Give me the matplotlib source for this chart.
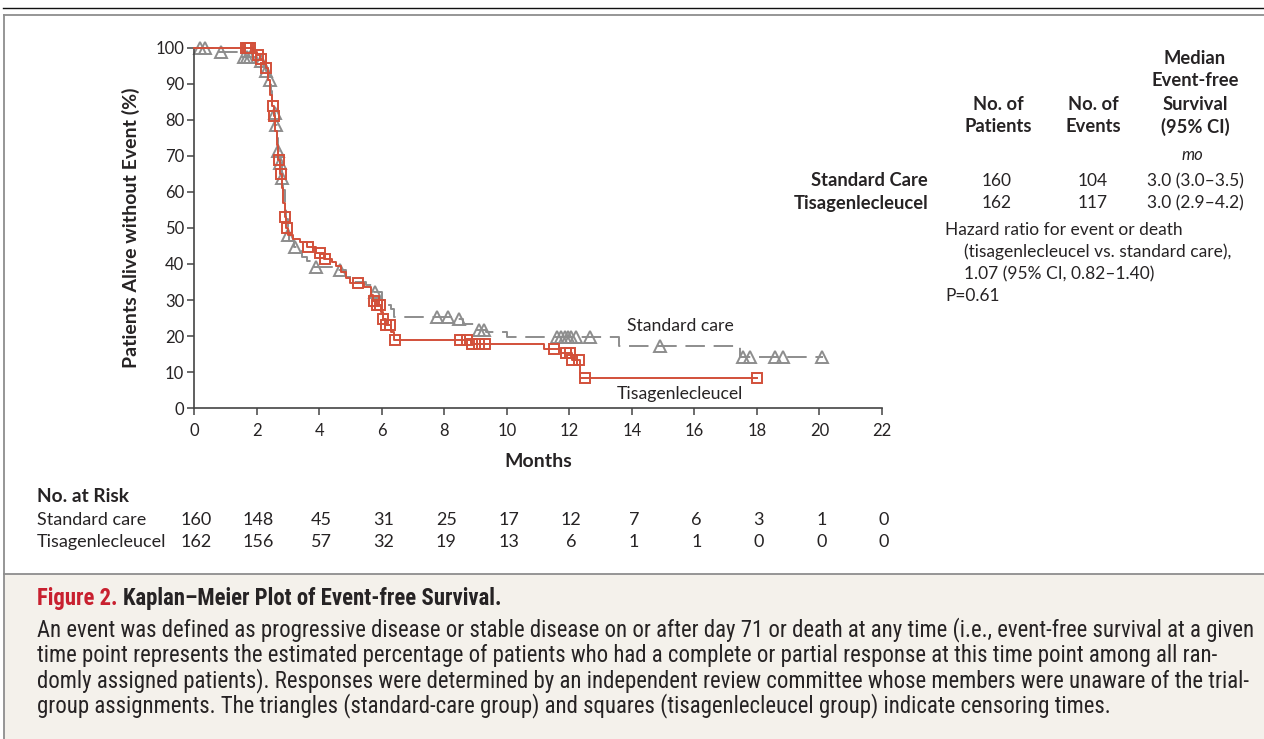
import numpy as np
import matplotlib.pyplot as plt
from matplotlib import font_manager
from matplotlib.lines import Line2D
from matplotlib.patches import Rectangle

# --- data ---
months_ticks = list(range(0, 23, 2))

# standard care (step points, post)
sc_t = [0, 0.6, 1.4, 2.0, 2.2, 2.3, 2.38, 2.45, 2.5, 2.55, 2.6, 2.65, 2.7, 2.75,
        2.8, 2.85, 2.9, 2.95, 3.0, 3.05, 3.2, 3.35, 3.45, 3.6, 3.8, 4.6, 4.85,
        5.1, 5.5, 5.75, 6.0, 6.2, 6.3, 6.4, 8.3, 8.6, 9.0, 9.35, 10.0, 13.6,
        17.45, 20.1]
sc_s = [100, 98.8, 97.5, 96.5, 95.2, 93.5, 91, 88, 85, 82, 78.5, 75, 71.5, 68,
        64, 60.5, 56.5, 52.5, 48, 46.5, 44.8, 43.5, 42, 40.8, 39.3, 38.3, 36.5,
        35, 34.2, 32.3, 30, 28.5, 27.5, 25.4, 24.6, 23.2, 21.8, 21.2, 19.8,
        17.2, 14.3, 14.3]
sc_cens = [0.2, 0.35, 0.85, 1.6, 1.7, 1.8, 2.15, 2.3, 2.43, 2.58, 2.63, 2.7,
           2.76, 2.82, 3.0, 3.23, 3.89, 4.67, 5.79, 7.77, 8.13, 8.48, 9.1,
           9.27, 11.6, 11.75, 11.85, 11.95, 12.05, 12.2, 12.67, 14.9, 17.56,
           17.78, 18.58, 18.84, 20.08]

# tisagenlecleucel
ti_t = [0, 1.9, 2.0, 2.1, 2.2, 2.3, 2.38, 2.44, 2.5, 2.55, 2.6, 2.65, 2.7,
        2.75, 2.8, 2.85, 2.9, 2.95, 3.0, 3.15, 3.4, 3.6, 3.9, 4.15, 4.4, 4.55,
        4.7, 4.85, 5.0, 5.45, 5.65, 5.72, 5.85, 5.97, 6.03, 6.15, 6.3, 6.38,
        8.85, 11.2, 11.75, 12.1, 12.35, 18.0]
ti_s = [100, 99, 98, 97, 96, 94.5, 91, 87, 84, 81, 77, 73, 69, 65, 61, 57,
        53, 50, 48, 47, 46, 44.8, 43, 41.5, 40.6, 39.4, 37.9, 36, 34.7, 33.7,
        31.5, 29.8, 28.5, 26.8, 24.8, 23, 21, 18.9, 17.8, 16.4, 15.2, 13.4,
        8.4, 8.4]
ti_cens = [1.65, 1.72, 1.8, 2.05, 2.15, 2.3, 2.52, 2.57, 2.72, 2.78, 2.92,
           2.97, 3.66, 4.03, 4.19, 5.25, 5.75, 5.85, 5.95, 6.05, 6.15, 6.28,
           6.43, 8.5, 8.73, 8.9, 9.1, 9.3, 11.5, 11.9, 12.02, 12.1, 12.3,
           12.5, 18.0]

risk_sc = [160, 148, 45, 31, 25, 17, 12, 7, 6, 3, 1, 0]
risk_ti = [162, 156, 57, 32, 19, 13, 6, 1, 1, 0, 0, 0]

tbl_groups = ["Standard Care", "Tisagenlecleucel"]
tbl_patients = ["160", "162"]
tbl_events = ["104", "117"]
tbl_median = ["3.0 (3.0\u20133.5)", "3.0 (2.9\u20134.2)"]

caption_title = "Kaplan\u2013Meier Plot of Event-free Survival."
caption_lines = [
    "An event was defined as progressive disease or stable disease on or after day 71 or death at any time (i.e., event-free survival at a given",
    "time point represents the estimated percentage of patients who had a complete or partial response at this time point among all ran-",
    "domly assigned patients). Responses were determined by an independent review committee whose members were unaware of the trial-",
    "group assignments. The triangles (standard-care group) and squares (tisagenlecleucel group) indicate censoring times.",
]

RED = "#d2503a"
GRAY = "#8d8d8d"
TXT = "#262324"

names = {f.name for f in font_manager.fontManager.ttflist}
FONT = "Lato" if "Lato" in names else "DejaVu Sans"
NARROW = next((n for n in ["Liberation Sans Narrow", "DejaVu Sans Condensed",
                           "Roboto Condensed", "Open Sans Condensed"] if n in names),
              "Liberation Sans")
plt.rcParams["font.family"] = [FONT, "DejaVu Sans"]

W, H = 1264, 739
fig = plt.figure(figsize=(W / 100, H / 100), dpi=100)


def fx(px):
    return px / W


def fy(py):
    return 1 - py / H


# frame and caption box
fig.add_artist(Rectangle((fx(4), 0), 1, fy(574), transform=fig.transFigure,
                         facecolor="#f4f1eb", edgecolor="none", zorder=0))
fig.add_artist(Line2D([fx(3), 1], [fy(7.5), fy(7.5)], color="#111111", lw=1.0))
fig.add_artist(Line2D([fx(3.5), 1], [fy(14.5), fy(14.5)], color=GRAY, lw=1.3))
fig.add_artist(Line2D([fx(4), fx(4)], [0, fy(14.5)], color=GRAY, lw=1.3))
fig.add_artist(Line2D([fx(4), 1], [fy(574), fy(574)], color=GRAY, lw=1.3))

ax = fig.add_axes([fx(194), fy(408), fx(882) - fx(194), fy(48) - fy(408)])
ax.set_xlim(0, 22)
ax.set_ylim(0, 100)
ax.set_xticks(months_ticks)
ax.set_yticks(range(0, 101, 10))
for sp in ["top", "right"]:
    ax.spines[sp].set_visible(False)
for sp in ["left", "bottom"]:
    ax.spines[sp].set_color("#444444")
    ax.spines[sp].set_linewidth(1.2)
ax.tick_params(direction="out", length=5, width=1.1, color="#444444",
               labelsize=12, labelcolor=TXT)
ax.tick_params(axis="x", pad=6)
ax.tick_params(axis="y", pad=2)
ax.set_facecolor("none")

ax.step(sc_t, sc_s, where="post", color=GRAY, lw=1.4, dashes=(10, 4.5),
        clip_on=False, zorder=2)
ax.step(ti_t, ti_s, where="post", color=RED, lw=1.4, clip_on=False, zorder=3)


def at(t, s, c):
    idx = np.searchsorted(t, c, side="right") - 1
    return np.asarray(s)[idx]


ax.plot(sc_cens, at(sc_t, sc_s, sc_cens), ls="none", marker="^", ms=8.5,
        mfc="none", mec=GRAY, mew=1.4, clip_on=False, zorder=2)
ax.plot(ti_cens, at(ti_t, ti_s, ti_cens), ls="none", marker="s", ms=7.5,
        mfc="none", mec=RED, mew=1.4, clip_on=False, zorder=3)

ax.text(15.55, 22.8, "Standard care", ha="center", va="center", fontsize=12.7,
        color=TXT)
ax.text(15.55, 3.9, "Tisagenlecleucel", ha="center", va="center",
        fontsize=12.7, color=TXT)

ax.set_xlabel("Months", fontsize=14, fontweight="bold", color=TXT, labelpad=10)
ax.set_ylabel("Patients Alive without Event (%)", fontsize=14,
              fontweight="bold", color=TXT, labelpad=11)

# number at risk
fig.text(fx(37), fy(497), "No. at Risk", fontsize=13.8, fontweight="bold",
         color=TXT, va="center")
for row_y, lab, vals in [(520, "Standard care", risk_sc),
                         (542, "Tisagenlecleucel", risk_ti)]:
    fig.text(fx(37), fy(row_y), lab, fontsize=13, color=TXT, va="center")
    for m, v in zip(months_ticks, vals):
        xp = ax.transData.transform((m, 0))[0]
        fig.text(xp / W + fx(2), fy(row_y), str(v), fontsize=13, color=TXT,
                 ha="center", va="center")

# right-hand table
hdr = dict(fontsize=13.2, fontweight="bold", color=TXT, ha="center",
           va="center")
for j, s in enumerate(["No. of", "Patients"]):
    fig.text(fx(998), fy(104 + 23 * j), s, **hdr)
for j, s in enumerate(["No. of", "Events"]):
    fig.text(fx(1093), fy(104 + 23 * j), s, **hdr)
for j, s in enumerate(["Median", "Event-free", "Survival", "(95% CI)"]):
    fig.text(fx(1195), fy(58 + 23 * j), s, **hdr)
fig.text(fx(1192), fy(155), "mo", fontsize=12, style="italic", color=TXT,
         ha="center", va="center")
for i, g in enumerate(tbl_groups):
    yy = fy(181 + 22 * i)
    fig.text(fx(928), yy, g, fontsize=13.2, fontweight="bold", color=TXT,
             ha="right", va="center")
    fig.text(fx(997), yy, tbl_patients[i], fontsize=12.5, color=TXT,
             ha="center", va="center")
    fig.text(fx(1093), yy, tbl_events[i], fontsize=12.5, color=TXT,
             ha="center", va="center")
    fig.text(fx(1195), yy, tbl_median[i], fontsize=12.5, color=TXT,
             ha="center", va="center")
fig.text(fx(945), fy(230), "Hazard ratio for event or death", fontsize=12.5,
         color=TXT, va="center")
fig.text(fx(964), fy(252), "(tisagenlecleucel vs. standard care),",
         fontsize=12.5, color=TXT, va="center")
fig.text(fx(964), fy(274), "1.07 (95% CI, 0.82\u20131.40)", fontsize=12.5,
         color=TXT, va="center")
fig.text(fx(945), fy(296), "P=0.61", fontsize=12.5, color=TXT, va="center")

# caption: size chosen so the first line spans the box width
cap = [NARROW, "DejaVu Sans"]
probe = fig.text(0, 0, caption_lines[0], fontsize=13, family=cap)
fig.canvas.draw()
cap_fs = 13 * (1209 / probe.get_window_extent().width)
probe.remove()

t1 = fig.text(fx(37), fy(598), "Figure 2.", fontsize=cap_fs, fontweight="bold",
              color="#c8202f", va="center", family=cap)
fig.canvas.draw()
bb = t1.get_window_extent()
fig.text(bb.x1 / W + fx(5), fy(598), caption_title, fontsize=cap_fs,
         fontweight="bold", color=TXT, va="center", family=cap)
for i, line in enumerate(caption_lines):
    fig.text(fx(37), fy(630 + 25.3 * i), line, fontsize=cap_fs, color=TXT,
             va="center", family=cap)

fig.savefig("out.png", dpi=100)
